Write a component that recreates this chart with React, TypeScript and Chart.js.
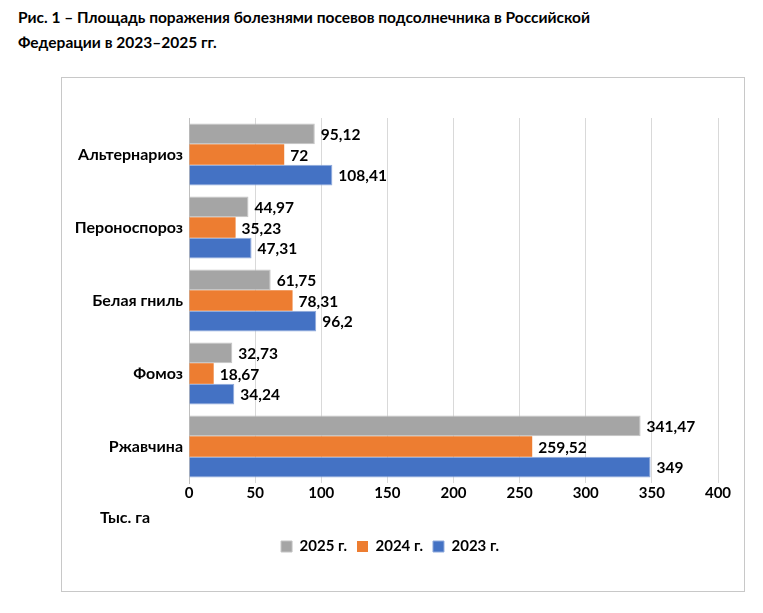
import React, { useEffect, useRef } from "react";
import { Chart, registerables } from "chart.js";

Chart.register(...registerables);

const categories = ["Альтернариоз", "Пероноспороз", "Белая гниль", "Фомоз", "Ржавчина"];
const values2025 = [95.12, 44.97, 61.75, 32.73, 341.47];
const values2024 = [72, 35.23, 78.31, 18.67, 259.52];
const values2023 = [108.41, 47.31, 96.2, 34.24, 349];
const seriesLabels = ["2025 г.", "2024 г.", "2023 г."];
const xTicks = [0, 50, 100, 150, 200, 250, 300, 350, 400];
const titleLines = [
  "Рис. 1 – Площадь поражения болезнями посевов подсолнечника в Российской",
  "Федерации в 2023–2025 гг.",
];
const axisUnit = "Тыс. га";

const FONT = "Lato, 'Open Sans', sans-serif";

const labelsPlugin = {
  id: "barValueLabels",
  afterDatasetsDraw(chart: any) {
    const ctx = chart.ctx;
    ctx.save();
    ctx.font = `bold 15.5px ${FONT}`;
    ctx.fillStyle = "#000";
    ctx.textAlign = "left";
    ctx.textBaseline = "middle";
    chart.data.datasets.forEach((ds: any, di: number) => {
      const meta = chart.getDatasetMeta(di);
      meta.data.forEach((bar: any, i: number) => {
        const v = ds.data[i];
        const txt = String(v).replace(".", ",");
        ctx.fillText(txt, bar.x + 6, bar.y + 1);
      });
    });
    ctx.font = `bold 16px ${FONT}`;
    ctx.fillText(axisUnit, 38, 440);
    ctx.restore();
  },
};

export default function App() {
  const ref = useRef<HTMLCanvasElement>(null);
  useEffect(() => {
    if (!ref.current) return;
    const chart = new Chart(ref.current, {
      type: "bar",
      data: {
        labels: categories,
        datasets: [
          { label: seriesLabels[0], data: values2025, backgroundColor: "#A5A5A5", borderColor: "#c4c4c4", borderWidth: 1 },
          { label: seriesLabels[1], data: values2024, backgroundColor: "#ED7D31", borderColor: "#ED7D31", borderWidth: 0 },
          { label: seriesLabels[2], data: values2023, backgroundColor: "#4472C4", borderColor: "#8faadc", borderWidth: 1 },
        ],
      },
      options: {
        indexAxis: "y",
        animation: false,
        responsive: false,
        maintainAspectRatio: false,
        layout: { padding: { left: 0, right: 26, top: 40, bottom: 27 } },
        datasets: { bar: { categoryPercentage: 0.85, barPercentage: 1 } },
        scales: {
          x: {
            min: 0,
            max: 400,
            afterBuildTicks: (scale: any) => {
              scale.ticks = xTicks.map((v) => ({ value: v }));
            },
            afterFit: (scale: any) => {
              scale.height = 46;
            },
            grid: { color: "#d9d9d9", drawTicks: false },
            border: { display: false },
            ticks: { color: "#000", font: { family: FONT, size: 15, weight: "bold" }, padding: 1 },
          },
          y: {
            afterFit: (scale: any) => {
              scale.width = 127;
            },
            grid: { display: false, drawTicks: false },
            border: { display: true, color: "#bfbfbf" },
            ticks: { color: "#000", font: { family: FONT, size: 16, weight: "bold" }, padding: 6 },
          },
        },
        plugins: {
          legend: {
            position: "bottom",
            labels: {
              color: "#000",
              boxWidth: 11,
              boxHeight: 11,
              padding: 10,
              font: { family: FONT, size: 15, weight: "bold" },
            },
          },
          tooltip: { enabled: false },
        },
      } as any,
      plugins: [labelsPlugin],
    });
    return () => chart.destroy();
  }, []);

  return (
    <div style={{ position: "absolute", left: 0, top: 0, width: 763, height: 613, background: "#fff" }}>
      <div
        style={{
          position: "absolute",
          left: 18,
          top: 5,
          fontFamily: FONT,
          fontWeight: "bold",
          fontSize: 15.5,
          lineHeight: "25px",
          color: "#000",
          whiteSpace: "nowrap",
        }}
      >
        {titleLines.map((t, i) => (
          <div key={i}>{t}</div>
        ))}
      </div>
      <div
        style={{
          position: "absolute",
          left: 61,
          top: 77,
          width: 684,
          height: 515,
          border: "1px solid #c8c8c8",
          boxSizing: "border-box",
        }}
      >
        <canvas ref={ref} width={682} height={513} style={{ display: "block", width: 682, height: 513 }} />
      </div>
    </div>
  );
}
